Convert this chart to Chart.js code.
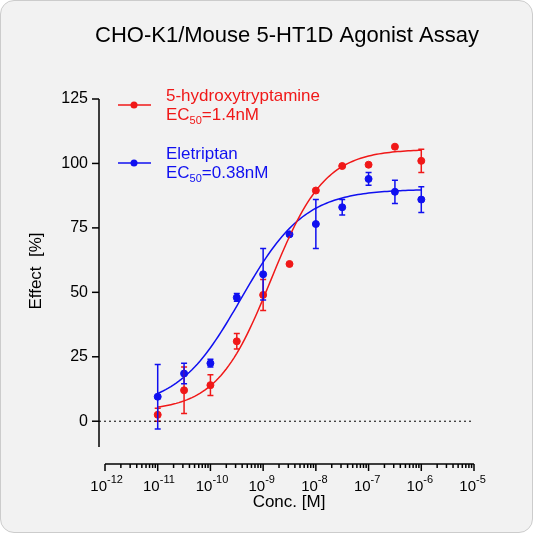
<!DOCTYPE html>
<html><head><meta charset="utf-8">
<script src="https://cdn.jsdelivr.net/npm/chart.js@4"></script>
<style>
html,body{margin:0;padding:0;background:#fff}
#wrap{position:absolute;left:0;top:0;width:531px;height:531px;border:1px solid #ccc;border-radius:14px;background:#f2f2f2;overflow:hidden}
canvas{position:absolute;left:0;top:0}
</style></head><body>
<div id="wrap"><canvas id="c" width="533" height="533"></canvas></div>
<script>
const logConc = [-11, -10.5, -10, -9.5, -9, -8.5, -8, -7.5, -7, -6.5, -6];
const ht = [2.5, 12, 14, 31, 49, 61, 89.5, 99, 99.5, 106.5, 101];
const htErr = [2.5, 9, 4, 3, 6, 0, 0, 0, 0, 0, 4.5];
const ele = [9.5, 18.5, 22.5, 48, 57, 72.5, 76.5, 83, 94, 89, 86];
const eleErr = [12.5, 4, 1.5, 1.5, 10, 0.5, 9.5, 3, 2.5, 4.5, 5];
const xTicks = [-12, -11, -10, -9, -8, -7, -6, -5];
const yTicks = [0, 25, 50, 75, 100, 125];
// fitted Hill parameters: bottom, top, logEC50, slope
const htFit = [4, 105.5, Math.log10(1.4e-9), 0.85];
const eleFit = [5, 90, Math.log10(0.38e-9), 0.72];

function hill(p, x) { return p[0] + (p[1] - p[0]) / (1 + Math.pow(10, (p[2] - x) * p[3])); }
function curve(p) {
  const pts = [];
  for (let x = -11; x <= -6.0001 + 0.05; x += 0.05) pts.push({x: x, y: hill(p, x)});
  return pts;
}
const pts = (arr) => arr.map((v, i) => ({x: logConc[i], y: v}));

const RED = '#f01818', BLUE = '#1010f0';
const FONT = '"Liberation Sans", Arial, sans-serif';

const decor = {
  id: 'decor',
  afterDatasetsDraw(chart) {
    const ctx = chart.ctx, xs = chart.scales.x, ys = chart.scales.y;
    ctx.save();
    [[ht, htErr, RED], [ele, eleErr, BLUE]].forEach(([v, e, col]) => {
      ctx.strokeStyle = col; ctx.lineWidth = 1.5;
      v.forEach((val, i) => {
        if (!e[i]) return;
        const px = xs.getPixelForValue(logConc[i]);
        const a = ys.getPixelForValue(val + e[i]), b = ys.getPixelForValue(val - e[i]);
        ctx.beginPath();
        ctx.moveTo(px, a); ctx.lineTo(px, b);
        ctx.moveTo(px - 3, a); ctx.lineTo(px + 3, a);
        ctx.moveTo(px - 3, b); ctx.lineTo(px + 3, b);
        ctx.stroke();
      });
    });
    ctx.restore();
  },
  afterDraw(chart) {
    const ctx = chart.ctx, xs = chart.scales.x, ys = chart.scales.y;
    ctx.save();
    ctx.strokeStyle = '#000'; ctx.fillStyle = '#000'; ctx.lineWidth = 1.5;
    const ax = 98;
    ctx.beginPath();
    ctx.moveTo(ax, ys.getPixelForValue(125)); ctx.lineTo(ax, ys.getPixelForValue(-10));
    ctx.stroke();
    ctx.font = '16px ' + FONT; ctx.textAlign = 'right'; ctx.textBaseline = 'middle';
    yTicks.forEach(t => {
      const py = ys.getPixelForValue(t);
      ctx.beginPath(); ctx.moveTo(ax - 7, py); ctx.lineTo(ax, py); ctx.stroke();
      ctx.fillText(String(t), ax - 11, py);
    });
    ctx.save(); ctx.setLineDash([2, 3]); ctx.lineWidth = 1;
    ctx.beginPath(); ctx.moveTo(ax, ys.getPixelForValue(0)); ctx.lineTo(xs.getPixelForValue(-5), ys.getPixelForValue(0)); ctx.stroke();
    ctx.restore();
    const ay = 463;
    ctx.beginPath(); ctx.moveTo(xs.getPixelForValue(-12), ay); ctx.lineTo(xs.getPixelForValue(-5), ay); ctx.stroke();
    xTicks.forEach((t, k) => {
      const px = xs.getPixelForValue(t);
      ctx.beginPath(); ctx.moveTo(px, ay); ctx.lineTo(px, ay + 7); ctx.stroke();
      if (k < xTicks.length - 1) {
        for (let m = 2; m < 10; m++) {
          const mx = xs.getPixelForValue(t + Math.log10(m));
          ctx.beginPath(); ctx.moveTo(mx, ay); ctx.lineTo(mx, ay + 4); ctx.stroke();
        }
      }
      ctx.font = '15px ' + FONT; ctx.textAlign = 'right'; ctx.textBaseline = 'alphabetic';
      ctx.fillText('10', px + 2, 490);
      ctx.font = '11px ' + FONT; ctx.textAlign = 'left';
      ctx.fillText(String(t), px + 2, 482);
    });
    ctx.font = '17px ' + FONT; ctx.textAlign = 'center';
    ctx.fillText('Conc. [M]', 288, 506);
    ctx.save(); ctx.translate(40, 270); ctx.rotate(-Math.PI / 2);
    ctx.fillText('Effect  [%]', 0, 0); ctx.restore();
    ctx.font = '22px ' + FONT;
    ctx.fillText('CHO-K1/Mouse 5-HT1D Agonist Assay', 286, 41);
    [[RED, 104, '5-hydroxytryptamine', '1.4nM'], [BLUE, 162, 'Eletriptan', '0.38nM']].forEach(([col, y, name, ec]) => {
      ctx.strokeStyle = col; ctx.fillStyle = col; ctx.lineWidth = 1.5;
      ctx.beginPath(); ctx.moveTo(117, y); ctx.lineTo(150, y); ctx.stroke();
      ctx.beginPath(); ctx.arc(133, y, 3.5, 0, Math.PI * 2); ctx.fill();
      ctx.textAlign = 'left'; ctx.font = '17px ' + FONT;
      ctx.fillText(name, 165, y - 4);
      ctx.fillText('EC', 165, y + 15);
      let w = ctx.measureText('EC').width;
      ctx.font = '11px ' + FONT; ctx.fillText('50', 165 + w, y + 19);
      w += ctx.measureText('50').width;
      ctx.font = '17px ' + FONT; ctx.fillText('=' + ec, 165 + w, y + 15);
    });
    ctx.restore();
  }
};

new Chart(document.getElementById('c'), {
  type: 'scatter',
  data: {
    datasets: [
      {data: curve(htFit), showLine: true, borderColor: RED, borderWidth: 1.5, pointRadius: 0},
      {data: curve(eleFit), showLine: true, borderColor: BLUE, borderWidth: 1.5, pointRadius: 0},
      {data: pts(ht), backgroundColor: RED, borderColor: RED, pointRadius: 3.5},
      {data: pts(ele), backgroundColor: BLUE, borderColor: BLUE, pointRadius: 3.5}
    ]
  },
  options: {
    responsive: false, animation: false,
    layout: {padding: {left: 104, right: 60, top: 98, bottom: 87}},
    plugins: {legend: {display: false}, tooltip: {enabled: false}},
    scales: {
      x: {type: 'linear', min: -12, max: -5, display: false},
      y: {min: -10, max: 125, display: false}
    }
  },
  plugins: [decor]
});
</script>
</body></html>
